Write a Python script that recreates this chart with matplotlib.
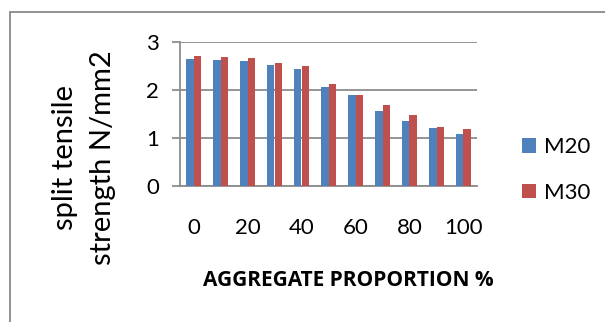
import matplotlib
matplotlib.use("Agg")
import matplotlib.pyplot as plt
import numpy as np
from matplotlib.patches import Rectangle

proportions = [0, 10, 20, 30, 40, 50, 60, 70, 80, 90, 100]
m20 = [2.65, 2.63, 2.61, 2.53, 2.43, 2.06, 1.89, 1.56, 1.35, 1.20, 1.09]
m30 = [2.70, 2.69, 2.67, 2.57, 2.50, 2.13, 1.90, 1.69, 1.47, 1.22, 1.18]
series_names = ["M20", "M30"]
tick_labels = ["0", "20", "40", "60", "80", "100"]

plt.rcParams["font.family"] = ["Lato", "DejaVu Sans"]

W, H = 605, 322
fig = plt.figure(figsize=(W / 100, H / 100), dpi=100)

# outer chart border
fig.patches.append(Rectangle((10 / W, -0.2), 1.5, (H - 12) / H + 0.2,
                             transform=fig.transFigure, fill=False,
                             edgecolor="#898989", linewidth=1.3))

ax = fig.add_axes([180 / W, 1 - 186 / H, (477 - 180) / W, (186 - 42) / H])

x = np.arange(len(proportions))
bw = 0.278
b1 = ax.bar(x - bw / 2, m20, width=bw, color="#4F81BD", label=series_names[0], zorder=3)
b2 = ax.bar(x + bw / 2, m30, width=bw, color="#C0504D", label=series_names[1], zorder=3)

ax.set_xlim(-0.5, len(proportions) - 0.5)
ax.set_ylim(0, 3)
ax.set_yticks([0, 1, 2, 3])
ax.set_xticks(x[::2])
ax.set_xticklabels(tick_labels)

grid_c = "#8c8c8c"
ax.yaxis.grid(True, color=grid_c, linewidth=1.3, zorder=0)
for s in ["top", "right"]:
    ax.spines[s].set_visible(False)
ax.spines["left"].set_color(grid_c)
ax.spines["bottom"].set_color(grid_c)
ax.spines["left"].set_linewidth(1.3)
ax.spines["bottom"].set_linewidth(1.3)
ax.tick_params(axis="y", length=6, width=1.3, color=grid_c, pad=9, labelsize=16)
ax.tick_params(axis="x", length=0, pad=23, labelsize=16)

fig.text(65 / W, 1 - 158 / H, "split tensile", rotation=90, ha="center", va="center", fontsize=21)
fig.text(103 / W, 1 - 158 / H, "strength N/mm2", rotation=90, ha="center", va="center", fontsize=21)
fig.text(348 / W, 1 - 280 / H, "AGGREGATE PROPORTION %", ha="center", va="center",
         fontsize=15, fontweight="bold", family=["Open Sans", "DejaVu Sans"])

ax.legend(handles=[b1, b2], loc="center left", bbox_to_anchor=(502 / W, 1 - 170 / H),
          bbox_transform=fig.transFigure, frameon=False, fontsize=16,
          handlelength=0.65, handleheight=0.65, handletextpad=0.35, labelspacing=1.15)

fig.savefig("out.png", dpi=100)
